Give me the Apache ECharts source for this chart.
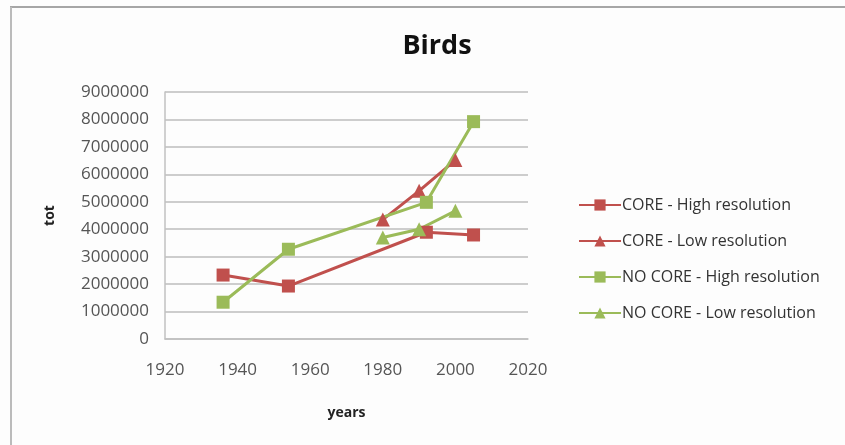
<!DOCTYPE html>
<html>
<head>
<meta charset="utf-8">
<script src="https://cdn.jsdelivr.net/npm/echarts@6/dist/echarts.min.js"></script>
<style>
html,body{margin:0;padding:0;background:#fdfdfd;}
#chart{width:845px;height:445px;}
</style>
</head>
<body>
<div id="chart"></div>
<script>
const seriesNames = ['CORE - High resolution','CORE - Low resolution','NO CORE - High resolution','NO CORE - Low resolution'];
const coreHighYears = [1936, 1954, 1992, 2005];
const coreHighValues = [2330000, 1930000, 3890000, 3790000];
const coreLowYears = [1980, 1990, 2000];
const coreLowValues = [4350000, 5400000, 6520000];
const noCoreHighYears = [1936, 1954, 1992, 2005];
const noCoreHighValues = [1340000, 3270000, 4980000, 7920000];
const noCoreLowYears = [1980, 1990, 2000];
const noCoreLowValues = [3700000, 4000000, 4670000];

const RED = '#C0504D', GREEN = '#9BBB59';
const FONT = 'Open Sans';

function pairs(xs, ys){ return xs.map((x,i)=>[x, ys[i]]); }
function mk(name, xs, ys, color, symbol){
  return {
    name, type:'line', data: pairs(xs, ys),
    symbol, symbolSize: symbol==='rect' ? 13 : 14,
    showAllSymbol:true,
    lineStyle:{color, width:3},
    itemStyle:{color},
    emphasis:{disabled:true},
    z: 3
  };
}

const chart = echarts.init(document.getElementById('chart'), null, {renderer:'canvas'});
chart.setOption({
  animation:false,
  backgroundColor:'#fdfdfd',
  title:{
    text:'Birds', left:432, top:28, textAlign:'center',
    textStyle:{fontFamily:FONT, fontSize:27, fontWeight:'bold', color:'#111'}
  },
  grid:{left:165, right:317, top:92, bottom:106},
  xAxis:{
    type:'value', min:1920, max:2020, interval:20,
    name:'years', nameLocation:'middle', nameGap:67,
    nameTextStyle:{fontFamily:FONT, fontSize:14, fontWeight:'bold', color:'#222'},
    axisLine:{show:true, onZero:false, lineStyle:{color:'#c0c0c0', width:1.5}},
    axisTick:{show:false},
    splitLine:{show:false},
    axisLabel:{fontFamily:FONT, fontSize:17, color:'#555', margin:23, formatter:(v)=>String(v)}
  },
  yAxis:{
    type:'value', min:0, max:9000000, interval:1000000,
    name:'tot', nameLocation:'middle', nameGap:108, nameRotate:90,
    nameTextStyle:{fontFamily:FONT, fontSize:14, fontWeight:'bold', color:'#222'},
    axisLine:{show:true, lineStyle:{color:'#c0c0c0', width:1.5}},
    axisTick:{show:false},
    splitLine:{show:true, lineStyle:{color:'#bdbdbd', width:1.5}},
    axisLabel:{fontFamily:FONT, fontSize:17, color:'#555', margin:16, formatter:(v)=>String(v)}
  },
  legend:{
    orient:'vertical', left:573, top:192,
    itemWidth:42, itemHeight:14, itemGap:20,
    textStyle:{fontFamily:FONT, fontSize:16, color:'#333', padding:[0,0,0,-4]},
    data: seriesNames
  },
  graphic:[
    {type:'line', shape:{x1:10, y1:7, x2:845, y2:7}, style:{stroke:'#888', lineWidth:1.5}, silent:true},
    {type:'line', shape:{x1:11, y1:7, x2:11, y2:445}, style:{stroke:'#bbb', lineWidth:2}, silent:true}
  ],
  series:[
    mk(seriesNames[0], coreHighYears, coreHighValues, RED, 'rect'),
    mk(seriesNames[1], coreLowYears, coreLowValues, RED, 'triangle'),
    mk(seriesNames[2], noCoreHighYears, noCoreHighValues, GREEN, 'rect'),
    mk(seriesNames[3], noCoreLowYears, noCoreLowValues, GREEN, 'triangle')
  ]
});
</script>
</body>
</html>
